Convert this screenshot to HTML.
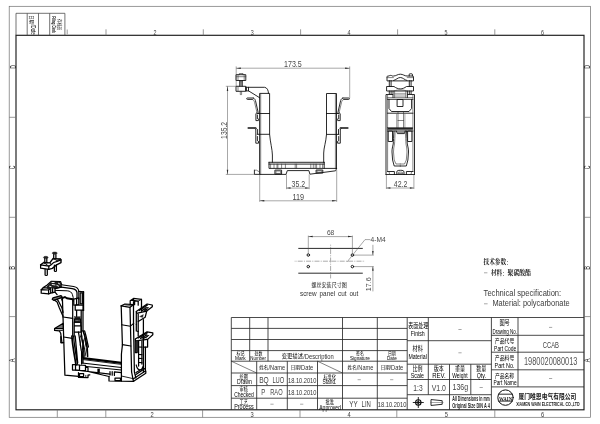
<!DOCTYPE html>
<html><head><meta charset="utf-8"><title>Drawing</title><style>
html,body{margin:0;padding:0;background:#fff;}
body{width:600px;height:424px;overflow:hidden;font-family:"Liberation Sans",sans-serif;}
svg{display:block;position:absolute;left:0;top:0;will-change:transform}
text{font-family:"Liberation Sans",sans-serif;}
text.cj{font-family:"Liberation Sans","Noto Sans CJK SC",sans-serif;}
text.cs{font-family:"Liberation Serif","Noto Serif CJK SC",serif;font-weight:bold;}
.f{fill:none;stroke:#1c1c1c;stroke-width:1.15}
.o{fill:none;stroke:#6e6e6e;stroke-width:.7}
.t{fill:none;stroke:#2a2a2a;stroke-width:.85}
.p{fill:none;stroke:#0e0e0e;stroke-width:.88;stroke-linejoin:round;stroke-linecap:round}
.q{fill:none;stroke:#303030;stroke-width:.6;stroke-linejoin:round;stroke-linecap:round}
.i{fill:none;stroke:#000;stroke-width:1.25;stroke-linejoin:round;stroke-linecap:round}
.j{fill:none;stroke:#0a0a0a;stroke-width:.9;stroke-linejoin:round;stroke-linecap:round}
.d{fill:none;stroke:#505050;stroke-width:.5}
.c{fill:none;stroke:#555;stroke-width:.5;stroke-dasharray:5 1.2 1 1.2}
.k{fill:#2a2a2a;stroke:none}
.b{fill:#222;stroke:#222;stroke-width:.4}
</style></head>
<body>
<svg width="600" height="424" viewBox="0 0 600 424">
<rect x="0" y="0" width="600" height="424" fill="#fff"/>
<g style="filter:grayscale(1)">
<rect class="o" x="9.2" y="6.3" width="581.2" height="411" />
<rect class="f" x="16" y="35.3" width="568" height="374.5" />
<path class="o" d="M106 29.3L106 35.3"/>
<path class="o" d="M203.3 29.3L203.3 35.3"/>
<path class="o" d="M300.6 29.3L300.6 35.3"/>
<path class="o" d="M397.6 29.3L397.6 35.3"/>
<path class="o" d="M494.8 29.3L494.8 35.3"/>
<path class="o" d="M105.8 409.8L105.8 417.3"/>
<path class="o" d="M202.6 409.8L202.6 417.3"/>
<path class="o" d="M300 409.8L300 417.3"/>
<path class="o" d="M396.8 409.8L396.8 417.3"/>
<path class="o" d="M494.8 409.8L494.8 417.3"/>
<path class="o" d="M9.2 117.3L16 117.3"/>
<path class="o" d="M584 117.3L590.4 117.3"/>
<path class="o" d="M9.2 217.3L16 217.3"/>
<path class="o" d="M584 217.3L590.4 217.3"/>
<path class="o" d="M9.2 316.6L16 316.6"/>
<path class="o" d="M584 316.6L590.4 316.6"/>
<path class="o" d="M67.2 29.5L67.2 34.3"/>
<text x="155" y="34.7" font-size="7.4" text-anchor="middle" fill="#3a3a3a" textLength="3" lengthAdjust="spacingAndGlyphs" >2</text>
<text x="252.3" y="34.7" font-size="7.4" text-anchor="middle" fill="#3a3a3a" textLength="3" lengthAdjust="spacingAndGlyphs" >3</text>
<text x="349" y="34.7" font-size="7.4" text-anchor="middle" fill="#3a3a3a" textLength="3" lengthAdjust="spacingAndGlyphs" >4</text>
<text x="446" y="34.7" font-size="7.4" text-anchor="middle" fill="#3a3a3a" textLength="3" lengthAdjust="spacingAndGlyphs" >5</text>
<text x="542.6" y="34.7" font-size="7.4" text-anchor="middle" fill="#3a3a3a" textLength="3" lengthAdjust="spacingAndGlyphs" >6</text>
<path class="o" d="M57.3 409.8L57.3 417.3"/>
<text x="152" y="416.7" font-size="7.8" text-anchor="middle" fill="#3a3a3a" textLength="3.2" lengthAdjust="spacingAndGlyphs" >2</text>
<text x="252.2" y="416.7" font-size="7.8" text-anchor="middle" fill="#3a3a3a" textLength="3.2" lengthAdjust="spacingAndGlyphs" >3</text>
<text x="349.2" y="416.7" font-size="7.8" text-anchor="middle" fill="#3a3a3a" textLength="3.2" lengthAdjust="spacingAndGlyphs" >4</text>
<text x="446.3" y="416.7" font-size="7.8" text-anchor="middle" fill="#3a3a3a" textLength="3.2" lengthAdjust="spacingAndGlyphs" >5</text>
<text x="542.6" y="416.7" font-size="7.8" text-anchor="middle" fill="#3a3a3a" textLength="3.2" lengthAdjust="spacingAndGlyphs" >6</text>
<text x="15.5" y="67" font-size="8.8" text-anchor="middle" fill="#222" textLength="3.7" lengthAdjust="spacingAndGlyphs" transform="rotate(-90 15.5 67)" >D</text>
<text x="590.2" y="67" font-size="8.8" text-anchor="middle" fill="#222" textLength="3.7" lengthAdjust="spacingAndGlyphs" transform="rotate(-90 590.2 67)" >D</text>
<text x="15.5" y="167.3" font-size="8.8" text-anchor="middle" fill="#222" textLength="3.7" lengthAdjust="spacingAndGlyphs" transform="rotate(-90 15.5 167.3)" >C</text>
<text x="590.2" y="167.3" font-size="8.8" text-anchor="middle" fill="#222" textLength="3.7" lengthAdjust="spacingAndGlyphs" transform="rotate(-90 590.2 167.3)" >C</text>
<text x="15.5" y="267.8" font-size="8.8" text-anchor="middle" fill="#222" textLength="3.7" lengthAdjust="spacingAndGlyphs" transform="rotate(-90 15.5 267.8)" >B</text>
<text x="590.2" y="267.8" font-size="8.8" text-anchor="middle" fill="#222" textLength="3.7" lengthAdjust="spacingAndGlyphs" transform="rotate(-90 590.2 267.8)" >B</text>
<text x="15.5" y="360.3" font-size="8.8" text-anchor="middle" fill="#222" textLength="3.7" lengthAdjust="spacingAndGlyphs" transform="rotate(-90 15.5 360.3)" >A</text>
<text x="590.2" y="360.3" font-size="8.8" text-anchor="middle" fill="#222" textLength="3.7" lengthAdjust="spacingAndGlyphs" transform="rotate(-90 590.2 360.3)" >A</text>
<path class="t" d="M16 35.3V13.3H64.9V35.3" style="stroke:#444;stroke-width:.75"/>
<path class="t" style="stroke:#444;stroke-width:.75" d="M27.2 13.3V35.3"/>
<path class="t" style="stroke:#444;stroke-width:.75" d="M38.5 13.3V35.3"/>
<path class="t" style="stroke:#444;stroke-width:.75" d="M49.7 13.3V35.3"/>
<g transform="translate(30.6 15.3) rotate(90)">
<text class="cj" x="0" y="0.1" font-size="5" text-anchor="start" fill="#111" textLength="8.65" lengthAdjust="spacingAndGlyphs">日期</text>
<text x="8.9" y="0" font-size="6.6" text-anchor="start" fill="#111" textLength="10.6" lengthAdjust="spacingAndGlyphs" >/Date</text>
</g>
<g transform="translate(57.6 19) rotate(90)">
<text class="cj" x="0" y="-0.02" font-size="4.3" text-anchor="start" fill="#111" textLength="11.15" lengthAdjust="spacingAndGlyphs">存档员</text>
</g>
<g transform="translate(51.8 16.2) rotate(90)">
<text x="0" y="0" font-size="5.4" text-anchor="start" fill="#111" textLength="16.8" lengthAdjust="spacingAndGlyphs" font-weight="bold" >Filing Clerk</text>
</g>
<path class="t" d="M231.3 409.8V317.5H584" />
<path class="t" d="M231.3 328.4L407.2 328.4"/>
<path class="t" d="M231.3 339.5L407.2 339.5"/>
<path class="t" d="M231.3 350.6L407.2 350.6"/>
<path class="t" d="M231.3 361.2L407.2 361.2"/>
<path class="t" d="M249.7 317.5L249.7 361.2"/>
<path class="t" d="M268 317.5L268 361.2"/>
<path class="t" d="M342.5 317.5L342.5 409.8"/>
<path class="t" d="M377.3 317.5L377.3 409.8"/>
<path class="t" d="M407.2 317.5L407.2 409.8"/>
<path class="t" d="M231.3 373L407.2 373"/>
<path class="t" d="M231.3 385.6L407.2 385.6"/>
<path class="t" d="M231.3 398.2L407.2 398.2"/>
<path class="t" d="M256.7 361.2L256.7 409.8"/>
<path class="t" d="M287.3 361.2L287.3 409.8"/>
<path class="t" d="M317.5 361.2L317.5 409.8"/>
<path class="q" d="M231.3 361.2L256.7 373"/>
<path class="q" d="M317.5 361.2L342.5 373"/>
<path class="t" d="M428.3 317.5L428.3 394.7"/>
<path class="t" d="M407.2 340.7L491.4 340.7"/>
<path class="t" d="M407.2 364.2L491.4 364.2"/>
<path class="t" d="M407.2 379.5L491.4 379.5"/>
<path class="t" d="M407.2 394.7L491.4 394.7"/>
<path class="t" d="M449.5 364.2L449.5 394.7"/>
<path class="t" d="M470.8 364.2L470.8 394.7"/>
<path class="t" d="M449.5 394.7L449.5 409.8"/>
<path class="t" d="M491.4 317.5L491.4 409.8"/>
<path class="t" d="M518 317.5L518 386.9"/>
<path class="t" d="M491.4 335.3L584 335.3"/>
<path class="t" d="M491.4 352.2L584 352.2"/>
<path class="t" d="M491.4 369.8L584 369.8"/>
<path class="t" d="M491.4 386.9L584 386.9"/>
<text class="cj" x="236.51" y="354.9" font-size="5.04" text-anchor="start" fill="#000" textLength="7.98" lengthAdjust="spacingAndGlyphs">标记</text>
<text x="235" y="360.2" font-size="5.57143" text-anchor="start" fill="#000" textLength="10.6" lengthAdjust="spacingAndGlyphs" >Mark</text>
<text class="cj" x="254.61" y="354.9" font-size="5.04" text-anchor="start" fill="#000" textLength="7.98" lengthAdjust="spacingAndGlyphs">处数</text>
<text x="250.3" y="360.2" font-size="5.57143" text-anchor="start" fill="#000" textLength="15.6" lengthAdjust="spacingAndGlyphs" >Number</text>
<text class="cj" x="281.7" y="358.25" font-size="5.4" text-anchor="start" fill="#000" textLength="21.3" lengthAdjust="spacingAndGlyphs">变更描述</text>
<text x="303.2" y="359.2" font-size="7.42857" text-anchor="start" fill="#333" textLength="30.6" lengthAdjust="spacingAndGlyphs" >/Description</text>
<text class="cj" x="356.11" y="354.61" font-size="4.92" text-anchor="start" fill="#000" textLength="7.78" lengthAdjust="spacingAndGlyphs">签名</text>
<text x="350" y="360.3" font-size="5.57143" text-anchor="start" fill="#000" textLength="19.8" lengthAdjust="spacingAndGlyphs" >Signature</text>
<text class="cj" x="387.91" y="354.61" font-size="4.92" text-anchor="start" fill="#000" textLength="7.78" lengthAdjust="spacingAndGlyphs">日期</text>
<text x="387" y="360.3" font-size="5.57143" text-anchor="start" fill="#000" textLength="9.8" lengthAdjust="spacingAndGlyphs" >Date</text>
<text class="cj" x="259.2" y="369.34" font-size="4.7" text-anchor="start" fill="#000" textLength="9.3" lengthAdjust="spacingAndGlyphs">姓名</text>
<text x="268.5" y="370.3" font-size="7.57143" text-anchor="start" fill="#333" textLength="16.6" lengthAdjust="spacingAndGlyphs" >/Name</text>
<text class="cj" x="347.5" y="369.34" font-size="4.7" text-anchor="start" fill="#000" textLength="9.3" lengthAdjust="spacingAndGlyphs">姓名</text>
<text x="356.8" y="370.3" font-size="7.57143" text-anchor="start" fill="#333" textLength="16.6" lengthAdjust="spacingAndGlyphs" >/Name</text>
<text class="cj" x="290.8" y="369.34" font-size="4.7" text-anchor="start" fill="#000" textLength="9.1" lengthAdjust="spacingAndGlyphs">日期</text>
<text x="299.4" y="370.3" font-size="7.57143" text-anchor="start" fill="#333" textLength="13.9" lengthAdjust="spacingAndGlyphs" >/Date</text>
<text class="cj" x="380.8" y="369.34" font-size="4.7" text-anchor="start" fill="#000" textLength="9.1" lengthAdjust="spacingAndGlyphs">日期</text>
<text x="389.4" y="370.3" font-size="7.57143" text-anchor="start" fill="#333" textLength="13.9" lengthAdjust="spacingAndGlyphs" >/Date</text>
<text class="cj" x="239.61" y="378.78" font-size="5.3" text-anchor="start" fill="#000" textLength="8.39" lengthAdjust="spacingAndGlyphs">绘图</text>
<text x="237" y="384.4" font-size="6.28571" text-anchor="start" fill="#000" textLength="14.8" lengthAdjust="spacingAndGlyphs" >Drawn</text>
<text x="259.2" y="382.6" font-size="8.85714" text-anchor="start" fill="#444" textLength="9.6" lengthAdjust="spacingAndGlyphs" >BQ</text>
<text x="272.4" y="382.6" font-size="8.85714" text-anchor="start" fill="#444" textLength="11.9" lengthAdjust="spacingAndGlyphs" >LUO</text>
<text x="288" y="382.6" font-size="7.71429" text-anchor="start" fill="#333" textLength="28.4" lengthAdjust="spacingAndGlyphs" >18.10.2010</text>
<text class="cj" x="323.43" y="378.78" font-size="5.3" text-anchor="start" fill="#000" textLength="12.54" lengthAdjust="spacingAndGlyphs">标准化</text>
<text x="322.5" y="384.3" font-size="6.28571" text-anchor="start" fill="#000" textLength="13.9" lengthAdjust="spacingAndGlyphs" >Stand.</text>
<path class="d" d="M357.6 379.7L360.8 379.7"/>
<path class="d" d="M390.1 379.7L393.3 379.7"/>
<text class="cj" x="239.61" y="391.28" font-size="5.3" text-anchor="start" fill="#000" textLength="8.39" lengthAdjust="spacingAndGlyphs">审核</text>
<text x="234.2" y="396.8" font-size="6.28571" text-anchor="start" fill="#000" textLength="19.6" lengthAdjust="spacingAndGlyphs" >Checked</text>
<text x="261.2" y="395" font-size="8.85714" text-anchor="start" fill="#444" textLength="4" lengthAdjust="spacingAndGlyphs" >P</text>
<text x="270.2" y="395" font-size="8.85714" text-anchor="start" fill="#444" textLength="12.4" lengthAdjust="spacingAndGlyphs" >RAO</text>
<text x="288" y="395.3" font-size="7.71429" text-anchor="start" fill="#333" textLength="28.4" lengthAdjust="spacingAndGlyphs" >18.10.2010</text>
<text class="cj" x="239.61" y="403.68" font-size="5.3" text-anchor="start" fill="#000" textLength="8.39" lengthAdjust="spacingAndGlyphs">工艺</text>
<text x="234.2" y="409.3" font-size="6.28571" text-anchor="start" fill="#000" textLength="19.6" lengthAdjust="spacingAndGlyphs" >Process</text>
<path class="d" d="M270.4 404.2L273.6 404.2"/>
<path class="d" d="M300.1 404.2L303.3 404.2"/>
<text class="cj" x="325.41" y="403.57" font-size="5.42" text-anchor="start" fill="#000" textLength="8.59" lengthAdjust="spacingAndGlyphs">批准</text>
<text x="319.2" y="409.5" font-size="6.28571" text-anchor="start" fill="#000" textLength="21.7" lengthAdjust="spacingAndGlyphs" >Approved</text>
<text x="349.2" y="407.2" font-size="9" text-anchor="start" fill="#444" textLength="8.4" lengthAdjust="spacingAndGlyphs" >YY</text>
<text x="361.6" y="407.2" font-size="9" text-anchor="start" fill="#444" textLength="9.3" lengthAdjust="spacingAndGlyphs" >LIN</text>
<text x="377.8" y="407.2" font-size="7.71429" text-anchor="start" fill="#333" textLength="28.6" lengthAdjust="spacingAndGlyphs" >18.10.2010</text>
<text class="cj" x="408.36" y="328.2" font-size="6.3" text-anchor="start" fill="#000" textLength="19.87" lengthAdjust="spacingAndGlyphs">表面处理</text>
<text x="410.8" y="335.8" font-size="7.14286" text-anchor="start" fill="#000" textLength="14" lengthAdjust="spacingAndGlyphs" >Finish</text>
<path class="d" d="M458.4 329.5L461.6 329.5"/>
<text class="cj" x="412.61" y="351.08" font-size="6.56" text-anchor="start" fill="#000" textLength="10.39" lengthAdjust="spacingAndGlyphs">材料</text>
<text x="408.4" y="359.2" font-size="7.14286" text-anchor="start" fill="#000" textLength="18.4" lengthAdjust="spacingAndGlyphs" >Material</text>
<path class="d" d="M458.4 352.8L461.6 352.8"/>
<text class="cj" x="412.51" y="370.7" font-size="6.3" text-anchor="start" fill="#000" textLength="9.98" lengthAdjust="spacingAndGlyphs">比例</text>
<text x="410.8" y="377.9" font-size="7.14286" text-anchor="start" fill="#000" textLength="13.1" lengthAdjust="spacingAndGlyphs" >Scale</text>
<text class="cj" x="433.81" y="370.7" font-size="6.3" text-anchor="start" fill="#000" textLength="9.98" lengthAdjust="spacingAndGlyphs">版本</text>
<text x="432.2" y="377.9" font-size="7.14286" text-anchor="start" fill="#000" textLength="13.4" lengthAdjust="spacingAndGlyphs" >REV.</text>
<text class="cj" x="455.01" y="370.7" font-size="6.3" text-anchor="start" fill="#000" textLength="9.98" lengthAdjust="spacingAndGlyphs">重量</text>
<text x="452.2" y="377.9" font-size="7.14286" text-anchor="start" fill="#000" textLength="15.4" lengthAdjust="spacingAndGlyphs" >Weight</text>
<text class="cj" x="476.21" y="370.7" font-size="6.3" text-anchor="start" fill="#000" textLength="9.98" lengthAdjust="spacingAndGlyphs">数量</text>
<text x="476.7" y="377.9" font-size="7.14286" text-anchor="start" fill="#000" textLength="9.2" lengthAdjust="spacingAndGlyphs" >Qty.</text>
<text x="413.3" y="390.8" font-size="9.42857" text-anchor="start" fill="#444" textLength="9.3" lengthAdjust="spacingAndGlyphs" >1:3</text>
<text x="431.7" y="390.8" font-size="9.42857" text-anchor="start" fill="#444" textLength="14.2" lengthAdjust="spacingAndGlyphs" >V1.0</text>
<text x="452.5" y="390.2" font-size="9.42857" text-anchor="start" fill="#444" textLength="15.6" lengthAdjust="spacingAndGlyphs" >136g</text>
<path class="d" d="M479.6 387.5L482.8 387.5"/>
<text x="452.2" y="401.4" font-size="7" text-anchor="start" fill="#222" textLength="37.6" lengthAdjust="spacingAndGlyphs" font-weight="bold" >All Dimensions in mm</text>
<text x="452.2" y="408.4" font-size="7" text-anchor="start" fill="#222" textLength="37.6" lengthAdjust="spacingAndGlyphs" font-weight="bold" >Original Size DIN A 4</text>
<circle class="p" cx="418.3" cy="402.5" r="2.7" style="stroke-width:1.1"/>
<circle class="p" cx="418.3" cy="402.5" r="1.1" />
<path class="p" d="M413.2 402.5L423.4 402.5"/>
<path class="p" d="M418.3 397.4L418.3 407.6"/>
<path class="p" d="M431.4 399.6L442.2 400.7L442.2 404.3L431.4 405.4Z" />
<path class="d" d="M430.2 402.5L443.5 402.5"/>
<text class="cj" x="499.41" y="325.08" font-size="6.56" text-anchor="start" fill="#000" textLength="10.39" lengthAdjust="spacingAndGlyphs">图号</text>
<text x="492.4" y="333.5" font-size="7.42857" text-anchor="start" fill="#000" textLength="24.7" lengthAdjust="spacingAndGlyphs" >Drawing No.</text>
<path class="d" d="M549 327.4L552.2 327.4"/>
<text class="cj" x="494.86" y="342.71" font-size="6.18" text-anchor="start" fill="#000" textLength="19.47" lengthAdjust="spacingAndGlyphs">产品代号</text>
<text x="494.1" y="350.5" font-size="7" text-anchor="start" fill="#000" textLength="22.2" lengthAdjust="spacingAndGlyphs" >Part Code</text>
<text x="542.8" y="347.6" font-size="9.42857" text-anchor="start" fill="#444" textLength="16.2" lengthAdjust="spacingAndGlyphs" >CCAB</text>
<text class="cj" x="494.86" y="359.91" font-size="6.18" text-anchor="start" fill="#000" textLength="19.47" lengthAdjust="spacingAndGlyphs">产品料号</text>
<text x="494.6" y="367.8" font-size="7" text-anchor="start" fill="#000" textLength="19.9" lengthAdjust="spacingAndGlyphs" >Part No.</text>
<text x="523.9" y="365" font-size="10" text-anchor="start" fill="#555" textLength="53.6" lengthAdjust="spacingAndGlyphs" >1980020080013</text>
<text class="cj" x="495.06" y="377.62" font-size="6.05" text-anchor="start" fill="#000" textLength="19.08" lengthAdjust="spacingAndGlyphs">产品名称</text>
<text x="493.4" y="384.8" font-size="7" text-anchor="start" fill="#000" textLength="23.2" lengthAdjust="spacingAndGlyphs" >Part Name</text>
<path class="d" d="M549 378.5L552.2 378.5"/>
<circle class="p" cx="505.5" cy="397.6" r="7.7" style="stroke-width:1"/>
<path class="p" d="M498.5 394.2L512.5 394.2"/>
<path class="p" d="M498.5 401.1L512.5 401.1"/>
<text x="498.9" y="400.5" font-size="6.8" text-anchor="start" fill="#222" textLength="13.3" lengthAdjust="spacingAndGlyphs" font-weight="bold" font-family="Liberation Serif, serif" style="font-family:'Liberation Serif',serif">WAIN</text>
<text class="cj" x="518.6" y="399.14" font-size="7.2" font-weight="bold" text-anchor="start" fill="#111" textLength="57.6" lengthAdjust="spacingAndGlyphs">厦门唯恩电气有限公司</text>
<text x="516.2" y="405.8" font-size="5.28571" text-anchor="start" fill="#222" textLength="63.4" lengthAdjust="spacingAndGlyphs" font-weight="bold" >XIAMEN WAIN ELECTRICAL CO.,LTD</text>
<path class="p" d="M259.6 174.4V93.4H269.6V134.3C270.2 142 272.4 150 272.4 155V162.3" />
<path class="q" d="M260.7 93.4L260.7 174.4"/>
<path class="p" d="M257.2 113.5L269.6 113.5"/>
<path class="p" d="M257.2 134.3L269.6 134.3"/>
<path class="p" d="M336.5 168.5V93.5H326.5V134.4C326 142 323.7 148 323.7 153V162.3" />
<path class="q" d="M335.4 93.5L335.4 168.5"/>
<path class="p" d="M326.5 113.5L338.9 113.5"/>
<path class="p" d="M326.5 134.4L338.9 134.4"/>
<path class="p" d="M269 162.3H324.2 M269 164.1H324.2 M269 162.3V168.4H336.6" />
<path class="p" d="M324.2 162.3L324.2 168.4"/>
<path class="q" d="M270.6 164.1L270.6 168.4"/>
<path class="q" d="M274 164.1L274 168.4"/>
<path class="q" d="M277 164.1L277 168.4"/>
<path class="q" d="M277.9 164.1L277.9 168.4"/>
<path class="q" d="M281.6 164.1L281.6 168.4"/>
<path class="q" d="M285.4 164.1L285.4 168.4"/>
<path class="q" d="M295.2 164.1L295.2 168.4"/>
<path class="q" d="M296.6 164.1L296.6 168.4"/>
<path class="q" d="M310.8 164.1L310.8 168.4"/>
<path class="q" d="M313.3 164.1L313.3 168.4"/>
<path class="q" d="M315.2 164.1L315.2 168.4"/>
<path class="q" d="M316.6 164.1L316.6 168.4"/>
<path class="q" d="M320 164.1L320 168.4"/>
<path class="q" d="M322.6 164.1L322.6 168.4"/>
<path class="p" d="M254.4 170.2V174.4H286L287.3 170.6H308.9L309.9 174.2L335.6 170.8L336.6 168.5" />
<path class="q" d="M254.4 170.2H256.5L259.6 172" />
<rect class="p" x="275.3" y="170.1" width="6.3" height="4" />
<rect class="q" x="276.3" y="171" width="4.3" height="2.4" />
<rect class="p" x="316.5" y="170" width="6.3" height="3.1" />
<rect class="q" x="317.4" y="170.8" width="4.4" height="1.6" />
<path class="q" d="M239.3 74.7V73.5H243V74.7" />
<rect class="p" x="236.4" y="74.7" width="9.4" height="5.8" />
<path class="q" d="M236.4 76.7L245.8 76.7"/>
<path class="q" d="M238 74.7L238 80.5"/>
<path class="q" d="M244.2 74.7L244.2 80.5"/>
<path class="p" d="M239.8 80.5V86.3M242.2 80.5V86.3" />
<path class="q" d="M239.8 81.5L242.2 81.5"/>
<path class="q" d="M239.8 82.7L242.2 82.7"/>
<path class="q" d="M239.8 83.9L242.2 83.9"/>
<path class="q" d="M239.8 85.1L242.2 85.1"/>
<rect class="p" x="236.4" y="86.3" width="9.2" height="5" />
<path class="q" d="M238 86.3L238 91.3"/>
<rect class="b" x="245.6" y="86.9" width="1.2" height="4.2" />
<path class="q" d="M240.3 91.3V94.6H241.6V91.3" />
<path class="p" d="M246.8 87.3H264.6C267 87.6 268.4 90 268.5 93.4" />
<path class="p" d="M246.8 90.9H248.6L259.6 97.7" />
<path class="p" d="M248.5 87.3L248.5 90.9"/>
<path class="p" d="M253.3 98H247.4C246.4 98 246.4 99.4 247.4 99.4H252.3" />
<path class="p" d="M253.3 98C255.0 98.6 255.3 100 255.8 102L258.2 112.6V113.5" />
<path class="q" d="M252.3 99.4C253.8 99.8 254.2 101 254.6 102.5L257.0 112.6" />
<path class="p" d="M257.0 112.6L255.9 113.6V120.6H258.4V119" />
<path class="p" d="M257.4 115V118.6" />
<path class="p" d="M248.2 127.9H255.2" style="stroke-width:1.5;stroke:#111"/>
<circle class="q" cx="255.6" cy="128.3" r="0.8" />
<path class="p" d="M255.8 129.2V143.2H258.5V141.5" />
<path class="p" d="M257.6 129.5V134M257.4 136.5V140.8" />
<path class="p" d="M342.8 98H348.7C349.7 98 349.7 99.4 348.7 99.4H343.8" />
<path class="p" d="M342.8 98C341.1 98.6 340.8 100 340.3 102L337.9 112.6V113.5" />
<path class="q" d="M343.8 99.4C342.3 99.8 341.9 101 341.5 102.5L339.1 112.6" />
<path class="p" d="M339.1 112.6L340.2 113.6V120.6H337.7V119" />
<path class="p" d="M338.7 115V118.6" />
<path class="p" d="M347.9 127.9H340.9" style="stroke-width:1.5;stroke:#111"/>
<circle class="q" cx="340.5" cy="128.3" r="0.8" />
<path class="p" d="M340.3 129.2V143.2H337.6V141.5" />
<path class="p" d="M338.5 129.5V134M338.7 136.5V140.8" />
<path class="d" d="M236.2 66.4L236.2 86.3"/>
<path class="d" d="M349.7 66.4L349.7 98"/>
<path class="d" d="M236.2 68.2L349.7 68.2"/>
<path class="k" d="M236.20 68.20L240.80 67.45L240.80 68.95Z" />
<path class="k" d="M349.70 68.20L345.10 68.95L345.10 67.45Z" />
<text x="284" y="67.4" font-size="8.85714" text-anchor="start" fill="#4a4a4a" textLength="17.8" lengthAdjust="spacingAndGlyphs" >173.5</text>
<path class="d" d="M225.8 86.3L236.3 86.3"/>
<path class="d" d="M225.8 174.4L259.6 174.4"/>
<path class="d" d="M227.5 86.3L227.5 174.4"/>
<path class="k" d="M227.50 86.30L228.25 90.90L226.75 90.90Z" />
<path class="k" d="M227.50 174.40L226.75 169.80L228.25 169.80Z" />
<g transform="translate(226.9 130.4) rotate(-90)">
<text x="-8.5" y="0" font-size="8.85714" text-anchor="start" fill="#4a4a4a" textLength="17" lengthAdjust="spacingAndGlyphs" >135.2</text>
</g>
<path class="d" d="M286.5 174.4L286.5 189.2"/>
<path class="d" d="M309.2 174.4L309.2 189.2"/>
<path class="d" d="M286.5 188.1L309.2 188.1"/>
<path class="k" d="M286.50 188.10L290.50 187.35L290.50 188.85Z" />
<path class="k" d="M309.20 188.10L305.20 188.85L305.20 187.35Z" />
<text x="291.5" y="187.3" font-size="8.57143" text-anchor="start" fill="#4a4a4a" textLength="13.6" lengthAdjust="spacingAndGlyphs" >35.2</text>
<path class="d" d="M259.7 174.4L259.7 201.8"/>
<path class="d" d="M336.7 170L336.7 201.8"/>
<path class="d" d="M259.7 200.8L336.7 200.8"/>
<path class="k" d="M259.70 200.80L264.30 200.05L264.30 201.55Z" />
<path class="k" d="M336.70 200.80L332.10 201.55L332.10 200.05Z" />
<text x="292.4" y="200" font-size="8.28571" text-anchor="start" fill="#4a4a4a" textLength="11.6" lengthAdjust="spacingAndGlyphs" >119</text>
<path class="p" d="M387 80.5V76.8C387 76.3 387.4 76 388 76H389C389.6 75.2 391.6 75.2 392.2 76H393.6C396 76 397.6 74.2 400.3 74.2C403 74.2 404.6 76 407 76H412.6C413.2 76 413.5 76.3 413.5 76.8V80.5Z" />
<path class="q" d="M387 77.6H393.4M407.2 77.6H413.5" />
<path class="p" d="M393.6 80.5C396 80 397.8 77.5 400.3 77.5C402.8 77.5 404.6 80 407 80.5" />
<path class="p" d="M409.2 76V74.2C409.2 73.6 412.4 73.6 412.4 74.2V76" />
<path class="p" d="M389.3 80.5V86.5M391.1 80.5V86.5" />
<path class="p" d="M409.3 80.5V86.5M411.1 80.5V86.5" />
<path class="p" d="M387 86.5H394C396 88 398 88.9 400.3 88.9C402.5 88.9 404.5 88 406.5 86.5H413.5V91H387Z" />
<path class="q" d="M394 91C396.5 90 398.5 89.9 400.3 89.9C402 89.9 404 90 406.5 91" />
<path class="p" d="M389.3 91V94M391.1 91V94" />
<path class="p" d="M409.3 91V94M411.1 91V94" />
<path class="p" d="M393 91V97.6M407.4 91V97.6" />
<path class="q" d="M394.6 91V97.6M405.8 91V97.6" />
<path class="d" d="M394.6 93.4L405.8 93.4"/>
<path class="d" d="M394.6 94.8L405.8 94.8"/>
<path class="d" d="M394.6 96.2L405.8 96.2"/>
<path class="p" d="M386 174.5V94.5H392.8M407.6 94.5H414.5V174.5" />
<path class="q" d="M387.6 94.5V171.5M412.9 94.5V171.5" />
<path class="q" d="M387.5 97.6L413 97.6"/>
<path class="p" d="M387.5 99.3H413" />
<path class="p" d="M389 99.5V108.5L391.5 111.5H409L411.6 108.5V99.5" />
<rect class="p" x="397.5" y="99.5" width="5.5" height="7" />
<path class="p" d="M387.5 113.2H413" />
<path class="q" d="M398 111.5V128M403.5 111.5V128M398 120.5H403.5" />
<path class="d" d="M396.6 113.7V128M404.9 113.7V128" />
<rect class="b" x="387.8" y="127.6" width="25" height="1.9" />
<path class="p" d="M387.5 131L413 131"/>
<rect class="p" x="388.6" y="131" width="3.9" height="10.5" />
<rect class="p" x="408" y="131" width="3.9" height="10.5" />
<path class="p" d="M394.0 131C393.4 137 393.6 141 393.2 144C392.6 147 391.9 149 392.0 152L392.6 160L394.2 166H400.3" />
<path class="q" d="M395.2 131C394.8 137 394.8 141 394.5 144C394.0 147 393.4 149 393.5 152L394.2 160L396.0 164H400.3" />
<path class="p" d="M406.5 131C407.1 137 406.9 141 407.3 144C407.9 147 408.6 149 408.5 152L407.9 160L406.3 166H400.2" />
<path class="q" d="M405.3 131C405.7 137 405.7 141 406.0 144C406.5 147 407.1 149 407.0 152L406.3 160L404.5 164H400.2" />
<path class="p" d="M396.4 131L397.4 133.6H404.4L405.2 131" />
<path class="q" d="M397.8 132.4H404" />
<path class="p" d="M386 174.5L414.5 174.5"/>
<path class="p" d="M387.5 171.5H394.4V174.5M413 171.5H406.4V174.5" />
<path class="q" d="M389 171.5L389.6 174.5M411.6 171.5L411 174.5" />
<path class="p" d="M396.8 174.5V172C396.8 170.6 398 170.3 400.4 170.3C402.8 170.3 404 170.6 404 172V174.5" />
<path class="q" d="M398 174.5V172.8C398 171.8 402.8 171.8 402.8 172.8V174.5" />
<path class="q" d="M398.5 173.5H402.3" />
<path class="d" d="M386.4 174.5L386.4 189"/>
<path class="d" d="M413.9 174.5L413.9 189"/>
<path class="d" d="M386.4 188L413.9 188"/>
<path class="k" d="M386.40 188.00L390.40 187.25L390.40 188.75Z" />
<path class="k" d="M413.90 188.00L409.90 188.75L409.90 187.25Z" />
<text x="393.8" y="187.4" font-size="8.57143" text-anchor="start" fill="#4a4a4a" textLength="13.6" lengthAdjust="spacingAndGlyphs" >42.2</text>
<path class="p" d="M298.7 248.4L362.4 248.4"/>
<path class="p" d="M298.7 273.2L362.4 273.2"/>
<path class="c" d="M294 261.2H365" stroke-dashoffset="4.7"/>
<path class="c" d="M330.6 244.7V278.4" stroke-dashoffset="4"/>
<circle class="p" cx="308.3" cy="255" r="1.25" style="stroke-width:.95"/>
<circle class="p" cx="352.4" cy="255.1" r="1.25" style="stroke-width:.95"/>
<circle class="p" cx="308.3" cy="266.6" r="1.25" style="stroke-width:.95"/>
<circle class="p" cx="352.4" cy="266.6" r="1.25" style="stroke-width:.95"/>
<path class="d" d="M308.3 235.6L308.3 253.8"/>
<path class="d" d="M352.4 235.6L352.4 253.8"/>
<path class="d" d="M308.3 236.6L352.4 236.6"/>
<path class="k" d="M308.30 236.60L312.70 235.85L312.70 237.35Z" />
<path class="k" d="M352.40 236.60L348.00 237.35L348.00 235.85Z" />
<text x="326.9" y="235.4" font-size="8" text-anchor="start" fill="#4a4a4a" textLength="7.4" lengthAdjust="spacingAndGlyphs" >68</text>
<path class="d" d="M347 262L365 239.6H370.4" />
<text x="370.6" y="241.6" font-size="6.3" text-anchor="start" fill="#444" textLength="15" lengthAdjust="spacingAndGlyphs" >4-M4</text>
<path class="d" d="M353.8 255.1L373.8 255.1"/>
<path class="d" d="M353.8 266.6L373.8 266.6"/>
<path class="d" d="M372.9 244.8L372.9 255.1"/>
<path class="d" d="M372.9 266.6L372.9 291.4"/>
<path class="k" d="M372.90 255.10L372.15 250.90L373.65 250.90Z" />
<path class="k" d="M372.90 266.60L373.65 270.80L372.15 270.80Z" />
<g transform="translate(371.4 284.3) rotate(-90)">
<text x="-6.9" y="0" font-size="8" text-anchor="start" fill="#4a4a4a" textLength="13.8" lengthAdjust="spacingAndGlyphs" >17.6</text>
</g>
<text class="cj" x="311.6" y="286.98" font-size="5.2" text-anchor="start" fill="#111" textLength="35.08" lengthAdjust="spacingAndGlyphs">螺丝安装尺寸图</text>
<text x="300" y="296.4" font-size="6.6" text-anchor="start" fill="#333" textLength="58.4" lengthAdjust="spacingAndGlyphs" word-spacing="1.2">screw panel cut out</text>
<text class="cs" x="483.6" y="264.41" font-size="6.6" text-anchor="start" fill="#111" textLength="22.41" lengthAdjust="spacingAndGlyphs">技术参数</text>
<text x="506.6" y="264.6" font-size="7" text-anchor="start" fill="#222" >:</text>
<path class="d" d="M484 272.8L487.4 272.8"/>
<text class="cs" x="491" y="275.41" font-size="6.6" text-anchor="start" fill="#111" textLength="11.21" lengthAdjust="spacingAndGlyphs">材料</text>
<text x="502.6" y="275.6" font-size="7" text-anchor="start" fill="#222" >:</text>
<text class="cs" x="507.6" y="275.41" font-size="6.6" text-anchor="start" fill="#111" textLength="23.36" lengthAdjust="spacingAndGlyphs">聚碳酸酯</text>
<text x="483.6" y="295.6" font-size="9.3" text-anchor="start" fill="#3c3c3c" textLength="77.6" lengthAdjust="spacingAndGlyphs" >Technical specification:</text>
<path class="d" d="M484 303.8L487.6 303.8"/>
<text x="492.4" y="306.4" font-size="9.3" text-anchor="start" fill="#3c3c3c" textLength="77.2" lengthAdjust="spacingAndGlyphs" >Material: polycarbonate</text>
<path class="b" d="M43.4 257.4C43.4 255.9 48.2 255.9 48.2 257.4C48.2 259 43.4 259 43.4 257.4Z" />
<path class="i" d="M44.8 258.6V263M46.8 258.6V262.8" />
<path class="b" d="M52.1 253.1C52.1 251.5 57.3 251.5 57.3 253.1C57.3 254.9 52.1 254.9 52.1 253.1Z" />
<path class="i" d="M53.7 254.5V258.4M55.9 254.5V258.6" />
<path class="i" d="M40.6 264.9L48.8 266.2V269.4L40.6 268.2Z" />
<path class="i" d="M40.6 264.9L43.8 262.5L49.8 262.9L53 258.6L60.4 259L61 259.8V262.6L56.6 264.8L52.4 268.4L48.8 269.4" style="stroke-width:1.4"/>
<path class="i" d="M48.8 266.2L51.6 264.4C53 262.4 54 261.8 56.4 261.6L61 259.8" />
<path class="j" d="M43.8 262.5L48.8 266.2M49.8 262.9L51.4 264.4M53 258.6L57 260.4L56.4 261.6M57 260.4L60.4 259" />
<path class="i" d="M45.1 269.2V275C45.1 275.6 47.3 275.6 47.3 275V269.4" />
<path class="i" d="M54.4 265V271C54.4 271.6 56.4 271.6 56.4 271V264.9" />
<path class="i" d="M41.2 289.7L48.6 290V293.9L41.2 293.2Z" />
<path class="i" d="M41.2 289.7L43.3 287.6L50.7 288.3L48.6 290" />
<path class="i" d="M50.7 288.3V293.2L55 292.2V288.6M48.6 293.9L50.7 293.2M52.6 288.4V292.8" />
<path class="i" d="M43.3 287.6L47.2 285L51.4 281.3L60.6 281.7L61.6 284.7" />
<path class="k" d="M46.3 286.9L51.4 281.3L60.6 281.7L61.8 284.8V287.5L55.2 288.9L50.7 288L48.8 289.5L47.2 288.5Z" style="fill:#1c1c1c"/>
<path class="i" d="M52 282.5H54.2M52.2 284.5L55 284.9M56.8 285.4L58.6 286.2M58.4 283.2L59.8 284M49.6 286.3L51 286.6" style="stroke:#fff;stroke-width:.9"/>
<path class="i" d="M55 288.6L61.4 287.2" />
<path class="i" d="M61.4 284.7L73.6 286.5C76.6 287 78.6 289 78.8 291.5V299.2" style="stroke-width:1.1"/>
<path class="i" d="M61.4 287.2L72.2 288.6C75 289 76.8 290.6 77 292.6V298.5" />
<path class="i" d="M55.3 290.4L67.2 290.8C70 291 71.8 292.4 72.4 294.5L73.2 297.5V301.4" style="stroke-width:1"/>
<path class="i" d="M55 292.2L57.1 294.6" />
<path class="i" d="M52.2 299.2L53 297.8L61 295.6L62 296.5L61.4 297.6L54 300.4Z" style="fill:#777"/>
<path class="i" d="M54.6 300.2L57.1 302L59.4 308L63 316.2M58.5 301.2L62 308L63 312.4M57.2 299.3L58.5 301.2" />
<path class="j" d="M60.8 297.9L62.4 301.5" />
<path class="i" d="M62.4 298.2L64.9 375.2L78.5 376.4" />
<path class="i" d="M62.4 298.2L64.9 297L66.8 298.2L72.7 299.3" style="stroke-width:1.9"/>
<path class="i" d="M72.7 299.3V336" />
<path class="i" d="M71.9 336C72.4 346 74.6 356 76 365" style="stroke-width:1.7"/>
<path class="i" d="M73.6 336C74.2 346 76.2 356 77.4 364M75.2 336L77.7 362.9" />
<path class="i" d="M63 317L72.7 318.4M63.6 337L72.4 338.3" />
<path class="i" d="M78.8 291.3L83.6 291.9" />
<path class="i" d="M83.3 291.9V310.2" style="stroke-width:1.8"/>
<path class="i" d="M83 310.2V331" />
<path class="i" d="M80.2 292.9H82.3V303.8H80.2Z" />
<path class="i" d="M73.8 299.2L78.8 297.8V304.5L73.8 305.2ZM76.6 298.4V304.8" />
<path class="i" d="M75.2 305.2V310.2H83.6M75.2 305.2H83M76.6 310.2V316.8M81.2 310.2V331" />
<rect class="b" x="74.6" y="316.7" width="5.6" height="2.4" />
<path class="i" d="M74.4 319H80.4V322H74.4Z" />
<rect class="j" x="75.2" y="320" width="4" height="1.2" />
<path class="i" d="M74.2 322.2H80.8V325.8H74.2ZM74.2 325.8V332.2H81.2V325.8M74.2 322V336" />
<path class="i" d="M78.4 332L79.1 336L81.2 350.2L83 357.2M81.2 331.5L81.6 336L83.7 348.7" />
<path class="i" d="M83 330.8L84.75 336L87.2 348L87.6 356.5" style="stroke-width:1.6"/>
<path class="i" d="M84.6 330.8L86 336L88.4 347" />
<path class="j" d="M82 336L80.2 345M84.5 338L82.2 350M86 342L83.6 352M81.4 334L79.6 339M87 348L85 356M84.75 348.5V357" />
<path class="i" d="M83 348.7V357.4" />
<path class="i" d="M54.6 328.5L63.2 323.3V328.5Z" style="fill:#777"/>
<path class="i" d="M54.6 328.5V330.4L59.3 330.8L60.7 333.2L62 343" />
<path class="i" d="M60.8 336.5V342.7H63.6" />
<path class="j" d="M59.3 330.8L63.4 330.2" />
<path class="i" d="M83 340V363M81.6 352V364" />
<path class="i" d="M83 357.6L121.4 362.4M83 358.6L121.4 363.4" />
<path class="j" d="M83 359.6L121.4 364.4" />
<path class="i" d="M82 363L121.4 367.5" style="stroke-width:1.1"/>
<path class="i" d="M86.5 366.5L121.4 370" />
<path class="i" d="M72.5 364.5H75.5V370H72.5ZM75.5 364.6L79.5 365V370.3L75.5 370M79.5 365L85.5 365.4V370.6L79.5 370.3M85.5 367.2L88 367.5V371.4" />
<path class="i" d="M75.5 370L110 374.2M88 371.5L109 376.5" />
<path class="i" d="M98 369V372.2M99.2 369.1V372.3M110 371.5V375M112.2 371.7V375.2M114.4 371.9V375.4M114.4 371.9L121.4 372.6" />
<path class="i" d="M78.5 372.5V377.2M78.5 377.4L88 377.6V375.2L89.8 374.9" />
<path class="i" d="M79.5 373.5H83.6V376.5H79.5Z" />
<path class="j" d="M85.8 375.3V377.5" />
<path class="i" d="M109 376.5V381L133.6 381.4" />
<path class="i" d="M115 378H120.5V380.6H115Z" />
<path class="j" d="M121.4 376L133 378.6" />
<path class="i" d="M121.2 305.9L122.4 344.6C122.2 349 121.4 352 121.4 355V381" />
<path class="i" d="M121.2 305.9L130 307.3L131.6 372L133.4 381.2" />
<path class="i" d="M121.2 305.9L125 304L133.5 304.7L130 307.3M133.5 304.7V323.4" />
<path class="j" d="M125.6 304.9L132.6 305.4" />
<path class="i" d="M121.6 324.8L130.4 326.2L133.7 323.4" style="stroke-width:1.1"/>
<path class="i" d="M122.4 344.6L130.8 346" />
<path class="i" d="M133.5 323.4L134.4 372L135.9 378" />
<path class="i" d="M130.2 304.4V300.7L133.5 298.4L141.5 299.3V306.4M131.1 300.2L138.2 301.2V305.2M133.5 298.4V304.7M134.6 301V304.7" />
<path class="j" d="M138.2 301.2L141.5 299.3" />
<path class="i" d="M136.3 311.6L147.1 304L152.3 305V306.8L146.7 311.1L145.2 317.2L138.2 321.5" />
<path class="i" d="M136.3 311.6V324.3M136.3 313.4L146.7 311.1M138.2 314V336" />
<path class="i" d="M139.2 310.6L147.4 305M141.6 311L146.2 307.8M144 311.2L147.4 308.8" />
<path class="j" d="M141 308.4L146.6 309.8M143.6 306.6L148.6 307.8" />
<path class="b" d="M139.6 316.6L143.4 314.6L142.6 317.4Z" />
<path class="i" d="M143.4 319.6V372M141.5 306.4V311" />
<path class="i" d="M135.3 339L147.1 331.9L152.8 332.8V334.7L147.6 339.4V347H144.3" />
<path class="i" d="M135.3 339V352.6H137.2V341.5M135.3 340.8L147.6 339.4" />
<path class="i" d="M138.2 338L147.4 332.8M140.6 338.4L146.6 335M143 338.8L147.6 336.2" />
<path class="j" d="M140 336.2L146.4 337.8M143.2 334.2L148.8 335.6" />
<path class="i" d="M136.3 324.3V331L138.2 331.4" />
<path class="k" d="M136 340.5H138.5V352H136Z" />
<path class="i" d="M138.6 341V366M141.9 341V364" />
<path class="i" d="M138.6 347L141.9 347.2"/>
<path class="i" d="M138.6 354.5L141.9 354.7"/>
<path class="i" d="M138.6 358.3L141.9 358.5"/>
<path class="i" d="M138.6 362.5L141.9 362.7"/>
<path class="i" d="M145.4 347V370.9L133.1 378.9M133.6 381.3L145.8 373.2V370.9" />
<path class="i" d="M136.2 365C137 369 139 371 141.6 369.4L143.4 366M136 372.5L143.4 368.2" />
<path class="i" d="M135.9 374.5L144.6 368.6" style="stroke-width:1.3"/>
</g>
</svg>
</body></html>
